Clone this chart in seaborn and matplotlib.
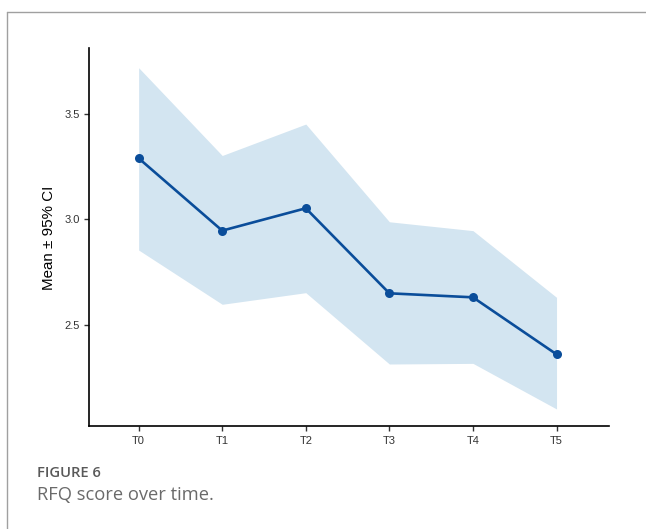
import matplotlib
matplotlib.use("Agg")
import matplotlib.pyplot as plt
import seaborn as sns
import pandas as pd
from matplotlib.lines import Line2D

times = ["T0", "T1", "T2", "T3", "T4", "T5"]
mean_vals = [3.288, 2.945, 3.051, 2.648, 2.629, 2.359]
ci_upper = [3.717, 3.301, 3.450, 2.987, 2.945, 2.629]
ci_lower = [2.853, 2.596, 2.651, 2.313, 2.316, 2.100]
y_ticks = [2.5, 3.0, 3.5]
y_title = "Mean ± 95% CI"
fig_label = "FIGURE 6"
fig_caption = "RFQ score over time."

df = pd.DataFrame({"time": times, "mean": mean_vals,
                   "upper": ci_upper, "lower": ci_lower})

sns.set_style("white")
plt.rcParams["font.family"] = ["Liberation Sans", "DejaVu Sans"]

fig = plt.figure(figsize=(6.46, 5.29), dpi=100)
ax = fig.add_axes([0.137, 0.1938, 0.806, 0.7149])

line_col = "#0a4d9a"
ribbon_col = "#d3e5f1"

ax.fill_between(df["time"], df["lower"], df["upper"], color=ribbon_col,
                linewidth=0, zorder=1)
sns.lineplot(data=df, x="time", y="mean", ax=ax, color=line_col,
             linewidth=1.9, marker="o", markersize=6.5,
             markeredgewidth=0, sort=False, zorder=3)

ax.set_xlim(-0.6, 5.63)
ax.set_ylim(2.017, 3.809)
ax.set_yticks(y_ticks)
ax.set_yticklabels([f"{v:.1f}" for v in y_ticks])
ax.set_xlabel("")
ax.set_ylabel(y_title, fontsize=10.9, color="black", labelpad=6)

for s in ["top", "right"]:
    ax.spines[s].set_visible(False)
for s in ["left", "bottom"]:
    ax.spines[s].set_color("black")
    ax.spines[s].set_linewidth(1.2)
ax.tick_params(axis="both", which="both", length=3.5, width=1.0,
               color="#333333", labelcolor="#333333", labelsize=8,
               left=True, bottom=True, pad=3)

# figure border (frame of the page)
fig.add_artist(Line2D([6.5 / 646, 1.0], [1 - 11.5 / 529, 1 - 11.5 / 529],
                      transform=fig.transFigure, color="#a0a0a0", linewidth=1.0))
fig.add_artist(Line2D([6.5 / 646, 6.5 / 646], [0.0, 1 - 11.5 / 529],
                      transform=fig.transFigure, color="#a0a0a0", linewidth=1.0))

fig.text(37 / 646, 1 - 473 / 529, fig_label, fontsize=10.6, color="#595959",
         fontweight="semibold", family=["Open Sans", "DejaVu Sans"],
         va="center", ha="left")
fig.text(37 / 646, 1 - 495 / 529, fig_caption, fontsize=13.2, color="#6a6a6a",
         family=["Open Sans", "DejaVu Sans"], va="center", ha="left")

fig.savefig("out.png", dpi=100)
